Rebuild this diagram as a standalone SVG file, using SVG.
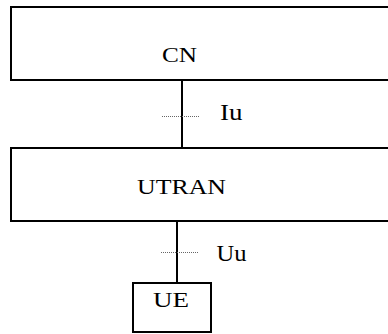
<svg xmlns="http://www.w3.org/2000/svg" width="388" height="334" viewBox="0 0 388 334">
<style>
.box{fill:#fff;stroke:#000;stroke-width:2}
.line{stroke:#000;stroke-width:2;fill:none}
.dot{stroke:#666;stroke-width:1;stroke-dasharray:1 1;fill:none}
text{font-family:"Liberation Serif","Times New Roman",serif;font-size:22px;fill:#000}
.lbl{font-size:24px}
</style>
<rect width="388" height="334" fill="#fff"/>
<g id="connectors">
<line class="line" x1="182" y1="80" x2="182" y2="148"/>
<line class="dot" x1="162" y1="116.5" x2="200" y2="116.5"/>
<line class="line" x1="177" y1="221" x2="177" y2="283"/>
<line class="dot" x1="161" y1="252.5" x2="199" y2="252.5"/>
<text class="lbl" x="220" y="120" textLength="22.5" lengthAdjust="spacingAndGlyphs">Iu</text>
<text class="lbl" x="216.5" y="261" textLength="30" lengthAdjust="spacingAndGlyphs">Uu</text>
</g>
<g id="CN">
<rect class="box" x="11" y="7" width="400" height="73"/>
<text x="162" y="62" textLength="35" lengthAdjust="spacingAndGlyphs">CN</text>
</g>
<g id="UTRAN">
<rect class="box" x="11" y="148" width="400" height="73"/>
<text x="137" y="194" textLength="89" lengthAdjust="spacingAndGlyphs">UTRAN</text>
</g>
<g id="UE">
<rect class="box" x="133" y="283" width="78" height="49"/>
<text x="153" y="307" textLength="36" lengthAdjust="spacingAndGlyphs">UE</text>
</g>
</svg>
